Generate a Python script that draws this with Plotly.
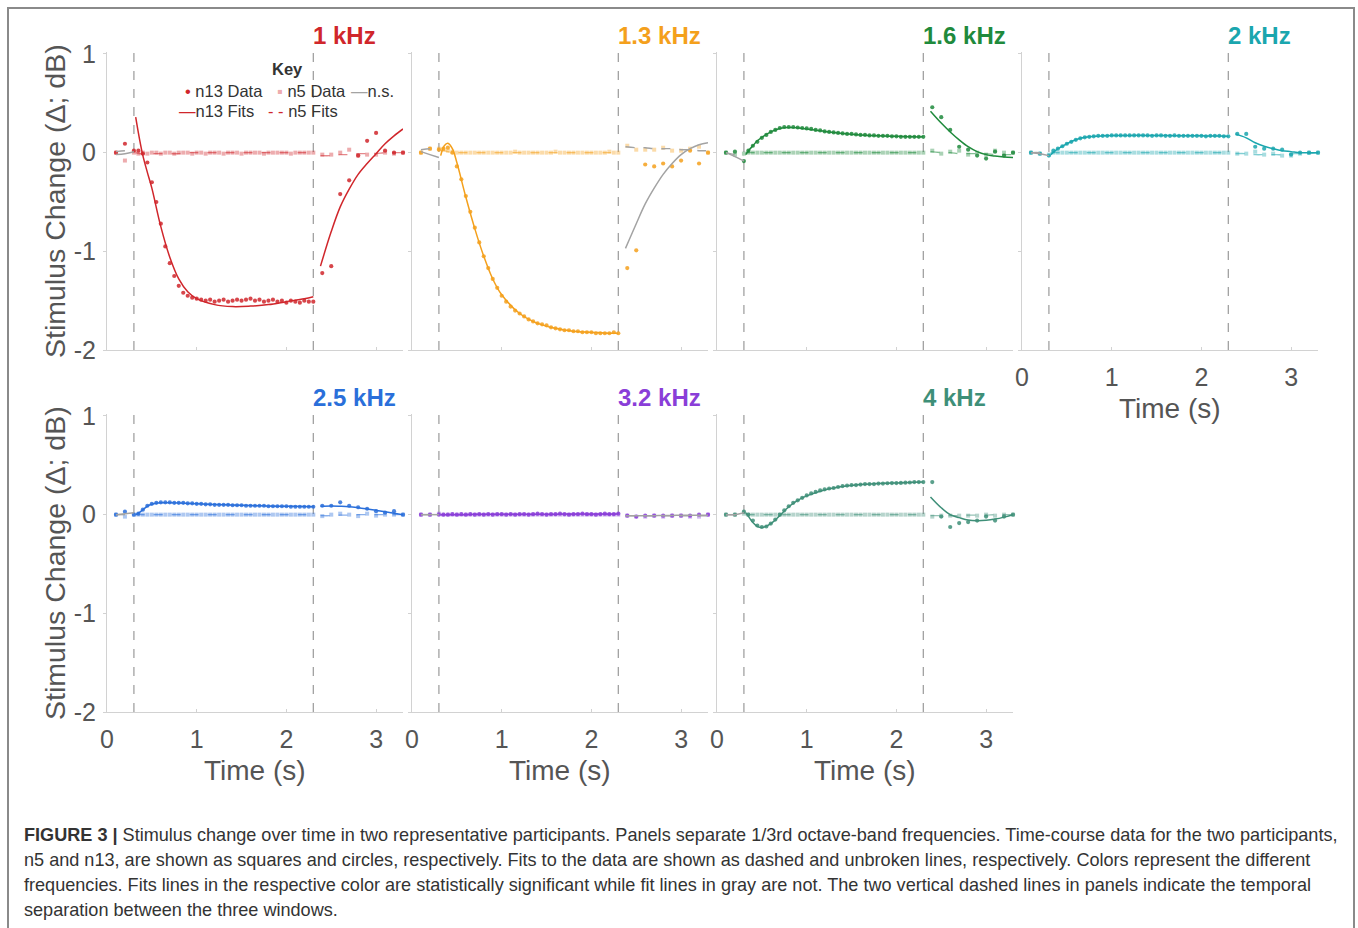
import plotly.graph_objects as go

W, H = 1358, 928

# ---------------- data ----------------
PANEL_LABELS = ["1 kHz", "1.3 kHz", "1.6 kHz", "2 kHz", "2.5 kHz", "3.2 kHz", "4 kHz"]
PANEL_COLORS = ["#d0262b", "#f4a01c", "#1f8a3c", "#1aa6ae", "#2a6fda", "#8a3ed8", "#3e8f78"]
NS_COLOR = "#a3a3a3"
WINDOW_BOUNDS = [0.3, 2.3]
X_TICKS = [0, 1, 2, 3]
Y_TICKS = [-2, -1, 0, 1]
Y_TICKTEXT = ["-2", "-1", "0", "1"]

T_PRE = [0.1, 0.2, 0.3]
T_MAIN = [0.35, 0.40, 0.45, 0.50, 0.55, 0.60, 0.65, 0.70, 0.75, 0.80,
          0.85, 0.90, 0.95, 1.00, 1.05, 1.10, 1.15, 1.20, 1.25, 1.30,
          1.35, 1.40, 1.45, 1.50, 1.55, 1.60, 1.65, 1.70, 1.75, 1.80,
          1.85, 1.90, 1.95, 2.00, 2.05, 2.10, 2.15, 2.20, 2.25, 2.30]
T_POST = [2.4, 2.5, 2.6, 2.7, 2.8, 2.9, 3.0, 3.1, 3.2, 3.3]

FIT_T_PRE = [0.1, 0.2, 0.3]
FIT_T_MAIN = [0.32, 0.36, 0.40, 0.45, 0.50, 0.60, 0.70, 0.80, 0.90, 1.00,
              1.20, 1.40, 1.60, 1.80, 2.00, 2.20, 2.30]
FIT_T_POST = [2.38, 2.50, 2.60, 2.70, 2.80, 2.90, 3.00, 3.10, 3.20, 3.30]

# ---- 1 kHz ----
N13_1K = [0.00, 0.09, 0.02,
          0.02, -0.01, -0.10, -0.30, -0.50, -0.72, -0.95, -1.12, -1.25, -1.35,
          -1.42, -1.45, -1.47, -1.48, -1.49, -1.50, -1.49, -1.51, -1.50, -1.49,
          -1.51, -1.50, -1.49, -1.50, -1.49, -1.48, -1.50, -1.49, -1.51, -1.50,
          -1.49, -1.51, -1.50, -1.52, -1.50, -1.51, -1.52, -1.50, -1.51, -1.51,
          -1.22, -1.15, -0.42, -0.28, -0.03, 0.12, 0.20, 0.02, 0.00, 0.00]
N5_1K = [0.00, -0.08, 0.00,
         -0.01, 0.00, -0.01, 0.00, 0.00, -0.01, 0.00, 0.00, -0.01, 0.00,
         0.00, 0.00, -0.01, 0.00, 0.00, -0.01, 0.00, 0.00, 0.00, -0.01,
         0.00, 0.00, 0.00, -0.01, 0.00, 0.00, 0.00, 0.00, -0.01, 0.00,
         0.00, 0.00, 0.00, 0.00, -0.01, 0.00, 0.00, 0.00, 0.00, 0.00,
         -0.02, -0.02, 0.00, 0.03, -0.03, -0.02, -0.02, 0.00, -0.01, 0.00]
FIT13_1K = [-0.02, -0.01, 0.01,
            0.36, 0.15, -0.03, -0.20, -0.36, -0.75, -1.06, -1.28, -1.41, -1.48,
            -1.54, -1.56, -1.555, -1.54, -1.51, -1.48, -1.46,
            -1.15, -0.80, -0.55, -0.37, -0.22, -0.11, -0.01, 0.09, 0.17, 0.24]
FIT5_1K = [0.01, 0.02, 0.02,
           0.00, -0.01, -0.01, -0.01, -0.01, -0.01, -0.01, -0.01, 0.00, 0.00,
           0.00, 0.00, 0.00, 0.00, 0.00, 0.00, 0.00,
           -0.03, -0.03, -0.02, -0.02, -0.01, -0.01, -0.01, 0.00, 0.00, 0.00]

# ---- 1.3 kHz ----
N13_13K = [0.00, 0.04, 0.03,
           0.04, 0.05, 0.00, -0.14, -0.27, -0.44, -0.60, -0.76, -0.91, -1.05,
           -1.17, -1.28, -1.37, -1.45, -1.51, -1.56, -1.60, -1.63, -1.66, -1.69,
           -1.71, -1.73, -1.74, -1.75, -1.77, -1.78, -1.79, -1.80, -1.80, -1.81,
           -1.81, -1.82, -1.82, -1.82, -1.83, -1.83, -1.83, -1.83, -1.82, -1.83,
           -1.17, -0.99, -0.12, -0.14, -0.11, -0.14, -0.08, 0.02, -0.11, 0.00]
N5_13K = [0.00, 0.04, 0.04,
          0.03, 0.02, 0.01, 0.00, 0.00, 0.00, 0.00, 0.00, 0.00, 0.00,
          0.00, 0.00, 0.00, 0.00, 0.00, 0.00, 0.01, 0.00, 0.00, 0.00,
          0.00, 0.00, 0.00, 0.00, 0.00, 0.01, 0.00, 0.00, 0.00, 0.00,
          0.00, 0.00, 0.00, 0.00, 0.00, 0.00, 0.00, 0.01, 0.00, 0.00,
          0.07, 0.03, 0.03, 0.03, 0.05, 0.02, 0.02, 0.04, 0.06, 0.00]
FIT13_13K = [0.01, -0.02, -0.05,
             -0.03, 0.07, 0.095, 0.04, -0.10, -0.45, -0.77, -1.05, -1.28, -1.44,
             -1.63, -1.73, -1.78, -1.81, -1.82, -1.83, -1.83,
             -0.97, -0.72, -0.52, -0.36, -0.22, -0.11, -0.02, 0.04, 0.08, 0.10]
FIT5_13K = [0.03, 0.04, 0.04,
            0.02, 0.02, 0.01, 0.00, 0.00, 0.00, 0.00, 0.00, 0.00, 0.00,
            0.00, 0.00, 0.00, 0.00, 0.00, 0.00, 0.00,
            0.06, 0.05, 0.05, 0.04, 0.04, 0.04, 0.03, 0.03, 0.02, 0.02]

# ---- 1.6 kHz ----
N13_16K = [0.00, 0.01, -0.085,
           0.02, 0.07, 0.11, 0.15, 0.18, 0.21, 0.23, 0.25, 0.26, 0.26,
           0.26, 0.255, 0.25, 0.245, 0.24, 0.23, 0.225, 0.215, 0.21, 0.205,
           0.20, 0.195, 0.19, 0.19, 0.185, 0.18, 0.18, 0.175, 0.175, 0.17,
           0.17, 0.17, 0.165, 0.165, 0.16, 0.16, 0.16, 0.16, 0.16, 0.16,
           0.46, 0.36, 0.23, 0.06, 0.03, -0.03, -0.06, 0.01, -0.03, 0.00]
N5_16K = [0.00, -0.02, -0.01,
          0.00, 0.00, 0.00, 0.00, 0.00, 0.00, 0.00, 0.00, 0.00, 0.00,
          0.00, 0.00, 0.00, 0.00, 0.00, 0.00, 0.00, 0.00, 0.00, 0.00,
          0.00, 0.00, 0.00, 0.00, 0.00, 0.00, 0.00, 0.00, 0.00, 0.00,
          0.00, 0.00, 0.00, 0.00, 0.00, 0.00, 0.00, 0.00, 0.00, 0.00,
          0.02, -0.01, 0.01, 0.02, -0.02, 0.00, -0.02, 0.02, 0.00, 0.00]
FIT13_16K = [0.00, -0.04, -0.085,
             -0.02, 0.03, 0.07, 0.12, 0.155, 0.21, 0.245, 0.255, 0.25, 0.24,
             0.215, 0.195, 0.18, 0.17, 0.165, 0.16, 0.16,
             0.42, 0.30, 0.21, 0.13, 0.06, 0.01, -0.02, -0.035, -0.045, -0.05]
FIT5_16K = [0.00, -0.02, -0.03,
            0.00, 0.00, 0.00, 0.00, 0.00, 0.00, 0.00, 0.00, 0.00, 0.00,
            0.00, 0.00, 0.00, 0.00, 0.00, 0.00, 0.00,
            0.01, 0.00, 0.00, -0.01, -0.01, -0.01, -0.01, -0.02, -0.02, -0.02]

# ---- 2 kHz ----
N13_2K = [0.00, -0.01, -0.03,
          0.02, 0.04, 0.065, 0.09, 0.11, 0.13, 0.145, 0.155, 0.16, 0.165,
          0.17, 0.17, 0.17, 0.175, 0.175, 0.175, 0.175, 0.175, 0.175, 0.175,
          0.175, 0.175, 0.17, 0.175, 0.175, 0.17, 0.17, 0.175, 0.17, 0.17,
          0.17, 0.17, 0.17, 0.17, 0.165, 0.17, 0.17, 0.17, 0.165, 0.165,
          0.19, 0.19, 0.06, 0.04, 0.04, 0.03, -0.02, 0.00, 0.00, 0.00]
N5_2K = [0.00, -0.01, -0.02,
         0.00, 0.00, 0.00, 0.00, 0.00, 0.00, 0.00, 0.00, 0.00, 0.00,
         0.00, 0.00, 0.00, 0.00, 0.00, 0.00, 0.00, 0.00, 0.00, 0.00,
         0.00, 0.00, 0.00, 0.00, 0.00, 0.00, 0.00, 0.00, 0.00, 0.00,
         0.00, 0.00, 0.00, 0.00, 0.00, 0.00, 0.00, 0.00, 0.00, 0.00,
         -0.01, -0.01, 0.01, -0.02, -0.01, -0.03, -0.03, -0.01, 0.00, 0.00]
FIT13_2K = [0.00, -0.01, -0.03,
            -0.02, 0.01, 0.04, 0.065, 0.09, 0.13, 0.155, 0.165, 0.17, 0.173,
            0.175, 0.175, 0.173, 0.171, 0.17, 0.168, 0.167,
            0.19, 0.15, 0.10, 0.065, 0.04, 0.02, 0.01, 0.00, 0.00, 0.00]
FIT5_2K = [0.00, 0.00, -0.01,
           0.00, 0.00, 0.00, 0.00, 0.00, 0.00, 0.00, 0.00, 0.00, 0.00,
           0.00, 0.00, 0.00, 0.00, 0.00, 0.00, 0.00,
           -0.01, -0.01, -0.02, -0.02, -0.02, -0.02, -0.01, -0.01, -0.01, 0.00]

# ---- 2.5 kHz ----
N13_25K = [0.00, 0.03, 0.00,
           0.01, 0.05, 0.09, 0.11, 0.12, 0.125, 0.125, 0.125, 0.12, 0.12,
           0.12, 0.115, 0.115, 0.11, 0.11, 0.105, 0.105, 0.10, 0.10, 0.10,
           0.10, 0.095, 0.095, 0.095, 0.09, 0.09, 0.09, 0.09, 0.09, 0.085,
           0.085, 0.085, 0.085, 0.085, 0.08, 0.08, 0.08, 0.08, 0.08, 0.08,
           0.09, 0.09, 0.125, 0.09, 0.075, 0.06, 0.035, 0.02, 0.035, 0.00]
N5_25K = [0.00, -0.02, 0.00,
          0.00, 0.00, 0.00, 0.00, 0.00, 0.00, 0.00, 0.00, 0.00, 0.00,
          0.00, 0.00, 0.00, 0.00, 0.00, 0.00, 0.00, 0.00, 0.00, 0.00,
          0.00, 0.00, 0.00, 0.00, 0.00, 0.00, 0.00, 0.00, 0.00, 0.00,
          0.00, 0.00, 0.00, 0.00, 0.00, 0.00, 0.00, 0.00, 0.00, 0.00,
          -0.015, 0.00, 0.01, 0.00, -0.015, 0.01, -0.01, 0.00, 0.00, 0.00]
FIT13_25K = [0.00, 0.01, 0.02,
             0.00, 0.02, 0.05, 0.085, 0.105, 0.12, 0.12, 0.118, 0.114, 0.11,
             0.103, 0.097, 0.092, 0.088, 0.085, 0.082, 0.08,
             0.085, 0.088, 0.085, 0.08, 0.07, 0.058, 0.045, 0.03, 0.015, 0.00]
FIT5_25K = [0.00, 0.00, 0.00,
            0.00, 0.00, 0.00, 0.00, 0.00, 0.00, 0.00, 0.00, 0.00, 0.00,
            0.00, 0.00, 0.00, 0.00, 0.00, 0.00, 0.00,
            -0.01, -0.01, -0.005, -0.005, 0.00, 0.00, 0.00, 0.00, 0.00, 0.00]

# ---- 3.2 kHz ----
N13_32K = [0.00, 0.00, 0.00,
           0.00, 0.00, 0.005, 0.00, 0.005, 0.00, 0.005, 0.00, 0.005, 0.00,
           0.005, 0.00, 0.005, 0.005, 0.00, 0.005, 0.00, 0.005, 0.005, 0.00,
           0.005, 0.01, 0.005, 0.00, 0.005, 0.005, 0.01, 0.005, 0.00, 0.005,
           0.005, 0.01, 0.005, 0.005, 0.00, 0.005, 0.01, 0.005, 0.005, 0.01,
           -0.01, -0.02, -0.01, -0.01, -0.01, -0.01, -0.01, -0.01, 0.00, 0.00]
N5_32K = [0.00, 0.00, 0.01,
          0.00, 0.00, 0.00, 0.00, 0.00, 0.00, 0.00, 0.00, 0.00, 0.00,
          0.00, 0.00, 0.00, 0.00, 0.00, 0.00, 0.00, 0.00, 0.00, 0.00,
          0.00, 0.00, 0.00, 0.00, 0.00, 0.00, 0.00, 0.00, 0.00, 0.00,
          0.00, 0.00, 0.00, 0.00, 0.00, 0.00, 0.00, 0.00, 0.00, 0.00,
          -0.01, -0.02, -0.02, -0.01, -0.02, -0.01, -0.01, -0.02, -0.02, 0.00]
FIT13_32K = [0.00, 0.00, 0.00,
             0.00, 0.00, 0.00, 0.00, 0.00, 0.00, 0.003, 0.003, 0.004, 0.005,
             0.005, 0.005, 0.005, 0.006, 0.006, 0.006, 0.006,
             -0.01, -0.01, -0.01, -0.01, -0.008, -0.008, -0.006, -0.006, -0.005, -0.005]
FIT5_32K = [0.00, 0.00, 0.00,
            0.00, 0.00, 0.00, 0.00, 0.00, 0.00, 0.00, 0.00, 0.00, 0.00,
            0.00, 0.00, 0.00, 0.00, 0.00, 0.00, 0.00,
            -0.01, -0.012, -0.012, -0.012, -0.012, -0.012, -0.012, -0.012, -0.012, -0.01]

# ---- 4 kHz ----
N13_4K = [0.00, 0.00, 0.03,
          0.00, -0.06, -0.11, -0.125, -0.12, -0.09, -0.05, 0.00, 0.044, 0.085,
          0.12, 0.145, 0.17, 0.195, 0.215, 0.23, 0.245, 0.257, 0.265, 0.27,
          0.28, 0.29, 0.295, 0.30, 0.30, 0.305, 0.31, 0.31, 0.31, 0.315,
          0.315, 0.318, 0.32, 0.32, 0.322, 0.324, 0.326, 0.33, 0.33, 0.33,
          0.33, -0.02, -0.125, -0.085, -0.075, -0.06, -0.02, -0.06, -0.02, 0.00]
N5_4K = [0.00, 0.00, 0.01,
         0.00, 0.00, 0.00, 0.00, 0.00, 0.00, 0.00, 0.00, 0.00, 0.00,
         0.00, 0.00, 0.00, 0.00, 0.00, 0.00, 0.00, 0.00, 0.00, 0.00,
         0.00, 0.00, 0.00, 0.00, 0.00, 0.00, 0.00, 0.00, 0.00, 0.00,
         0.00, 0.00, 0.00, 0.00, 0.00, 0.00, 0.00, 0.00, 0.00, 0.00,
         -0.02, -0.01, -0.01, -0.01, -0.01, -0.01, 0.00, -0.01, 0.00, 0.00]
FIT13_4K = [0.00, 0.00, 0.02,
            0.02, -0.03, -0.08, -0.12, -0.13, -0.09, -0.01, 0.08, 0.145, 0.19,
            0.25, 0.285, 0.305, 0.315, 0.322, 0.328, 0.33,
            0.18, 0.07, 0.00, -0.03, -0.055, -0.062, -0.058, -0.045, -0.025, 0.00]
FIT5_4K = [0.00, 0.00, 0.00,
           0.00, 0.00, 0.00, 0.00, 0.00, 0.00, 0.00, 0.00, 0.00, 0.00,
           0.00, 0.00, 0.00, 0.00, 0.00, 0.00, 0.00,
           -0.01, -0.01, -0.01, -0.01, -0.005, -0.005, -0.005, 0.00, 0.00, 0.00]

# significance of the fits per window (pre, main, post)
SIG_1K = [False, True, True]
SIG_13K = [False, True, False]
SIG_16K = [False, True, True]
SIG_2K = [False, True, True]
SIG_25K = [False, True, True]
SIG_32K = [False, True, False]
SIG_4K = [False, True, True]

N13_ALL = [N13_1K, N13_13K, N13_16K, N13_2K, N13_25K, N13_32K, N13_4K]
N5_ALL = [N5_1K, N5_13K, N5_16K, N5_2K, N5_25K, N5_32K, N5_4K]
FIT13_ALL = [FIT13_1K, FIT13_13K, FIT13_16K, FIT13_2K, FIT13_25K, FIT13_32K, FIT13_4K]
FIT5_ALL = [FIT5_1K, FIT5_13K, FIT5_16K, FIT5_2K, FIT5_25K, FIT5_32K, FIT5_4K]
SIG_ALL = [SIG_1K, SIG_13K, SIG_16K, SIG_2K, SIG_25K, SIG_32K, SIG_4K]

T_DATA = T_PRE + T_MAIN + T_POST
FIT_WINDOWS = [FIT_T_PRE, FIT_T_MAIN, FIT_T_POST]

# ---------------- layout helpers ----------------
FONT = "Liberation Sans, Arial, sans-serif"
TEXT_GRAY = "#555555"
AXIS_GRAY = "#d2d2d2"


def px(x):
    return x / W


def py(y):
    return 1 - y / H


COL_X0 = [107, 412, 717, 1022]
PANEL_W = 296
ROW_Y = [(52, 350), (414, 712)]


def hex_rgba(h, a):
    h = h.lstrip("#")
    r, g, b = int(h[0:2], 16), int(h[2:4], 16), int(h[4:6], 16)
    return f"rgba({r},{g},{b},{a})"


fig = go.Figure()
layout_axes = {}
shapes = []
annotations = []

for i, label in enumerate(PANEL_LABELS):
    row, col = divmod(i, 4)
    k = "" if i == 0 else str(i + 1)
    xa, ya = "x" + k, "y" + k
    color = PANEL_COLORS[i]
    light = hex_rgba(color, 0.38)

    fig.add_trace(go.Scatter(x=T_DATA, y=N5_ALL[i], mode="markers", xaxis=xa, yaxis=ya,
                             marker=dict(symbol="square", size=4, color=light, line=dict(width=0)),
                             cliponaxis=False, showlegend=False, hoverinfo="skip"))
    fig.add_trace(go.Scatter(x=T_DATA, y=N13_ALL[i], mode="markers", xaxis=xa, yaxis=ya,
                             marker=dict(symbol="circle", size=4.2, color=hex_rgba(color, 0.85),
                                         line=dict(width=0)),
                             cliponaxis=False, showlegend=False, hoverinfo="skip"))
    start = 0
    for w, tw in enumerate(FIT_WINDOWS):
        n = len(tw)
        sig = SIG_ALL[i][w]
        c5 = hex_rgba(color, 0.55) if sig else NS_COLOR
        c13 = color if sig else NS_COLOR
        fig.add_trace(go.Scatter(x=tw, y=FIT5_ALL[i][start:start + n], mode="lines",
                                 xaxis=xa, yaxis=ya, line=dict(color=c5, width=1.4, dash="dash",
                                                               shape="spline"),
                                 showlegend=False, hoverinfo="skip"))
        fig.add_trace(go.Scatter(x=tw, y=FIT13_ALL[i][start:start + n], mode="lines",
                                 xaxis=xa, yaxis=ya, line=dict(color=c13, width=1.5, shape="spline"),
                                 showlegend=False, hoverinfo="skip"))
        start += n

    x0 = COL_X0[col]
    ytop, ybot = ROW_Y[row]
    show_x = (row == 1) or (i == 3)
    layout_axes["xaxis" + k] = dict(
        domain=[px(x0), px(x0 + PANEL_W)], range=[0, 3.3], anchor=ya, automargin=False,
        showline=True, linecolor=AXIS_GRAY, linewidth=1, showgrid=False, zeroline=False,
        ticks="inside", ticklen=3, tickcolor=AXIS_GRAY, tickvals=X_TICKS,
        showticklabels=show_x, tickfont=dict(family=FONT, size=25, color=TEXT_GRAY),
        ticklabelstandoff=5, fixedrange=True)
    layout_axes["yaxis" + k] = dict(
        domain=[py(ybot), py(ytop)], range=[-2, 1.02], anchor=xa, automargin=False,
        showline=True, linecolor=AXIS_GRAY, linewidth=1, showgrid=False, zeroline=False,
        ticks="outside", ticklen=3, tickcolor=AXIS_GRAY, tickvals=Y_TICKS, ticktext=Y_TICKTEXT,
        showticklabels=(col == 0), tickfont=dict(family=FONT, size=25, color=TEXT_GRAY),
        ticklabelstandoff=2, fixedrange=True)

    for b in WINDOW_BOUNDS:
        shapes.append(dict(type="line", xref=xa, yref=ya + " domain", x0=b, x1=b, y0=0, y1=1,
                           line=dict(color="#9a9a9a", width=1.2, dash="dash"), layer="below"))

    annotations.append(dict(text=f"<b>{label}</b>", xref="paper", yref="paper",
                            x=px(x0 + 204), y=py(ytop - 17), xanchor="left", yanchor="middle",
                            showarrow=False, font=dict(family=FONT, size=24, color=color)))
    if show_x:
        annotations.append(dict(text="Time (s)", xref="paper", yref="paper",
                                x=px(x0 + PANEL_W / 2), y=py(ybot + 58), xanchor="center",
                                yanchor="middle", showarrow=False,
                                font=dict(family=FONT, size=28, color=TEXT_GRAY)))
    if col == 0:
        annotations.append(dict(text="Stimulus Change (Δ; dB)", xref="paper", yref="paper",
                                x=px(55), y=py((ytop + ybot) / 2), xanchor="center",
                                yanchor="middle", textangle=-90, showarrow=False,
                                font=dict(family=FONT, size=28.5, color=TEXT_GRAY)))

LEG = 16.5
red = PANEL_COLORS[0]
annotations += [
    dict(text="<b>Key</b>", x=px(287), y=py(69), xanchor="center"),
    dict(text=f'<span style="color:{red}">•</span> n13 Data', x=px(183), y=py(91), xanchor="left"),
    dict(text=f'<span style="color:{hex_rgba(red, 0.4)}">▪</span> n5 Data', x=px(275), y=py(91),
         xanchor="left"),
    dict(text=f'<span style="color:{NS_COLOR}">—</span>n.s.', x=px(349), y=py(91), xanchor="left"),
    dict(text=f'<span style="color:{red}">—</span>n13 Fits', x=px(177), y=py(111), xanchor="left"),
    dict(text=f'<span style="color:{red}">- -</span> n5 Fits', x=px(266), y=py(111), xanchor="left"),
]
for a in annotations[-6:]:
    a.update(xref="paper", yref="paper", yanchor="middle", showarrow=False,
             font=dict(family=FONT, size=LEG, color="#333333"))

CAPTION = [
    "<b>FIGURE 3 |</b> Stimulus change over time in two representative participants. Panels separate "
    "1/3rd octave-band frequencies. Time-course data for the two participants,",
    "n5 and n13, are shown as squares and circles, respectively. Fits to the data are shown as dashed "
    "and unbroken lines, respectively. Colors represent the different",
    "frequencies. Fits lines in the respective color are statistically significant while fit lines in "
    "gray are not. The two vertical dashed lines in panels indicate the temporal",
    "separation between the three windows.",
]
for j, line in enumerate(CAPTION):
    annotations.append(dict(text=line, xref="paper", yref="paper", x=px(22), y=py(835 + 25 * j),
                            xanchor="left", yanchor="middle", showarrow=False,
                            font=dict(family=FONT, size=18.1, color="#333333")))

shapes.append(dict(type="rect", xref="paper", yref="paper", x0=px(8), x1=px(1354), y0=-0.01,
                   y1=py(8), line=dict(color="#8a8a8a", width=2), fillcolor="rgba(0,0,0,0)"))

fig.update_layout(template="none", width=W, height=H, margin=dict(l=0, r=0, t=0, b=0, pad=0),
                  autosize=False, paper_bgcolor="white", plot_bgcolor="white", showlegend=False,
                  shapes=shapes, annotations=annotations, font=dict(family=FONT),
                  **layout_axes)

fig.write_html("out.html", config={"displayModeBar": False})
